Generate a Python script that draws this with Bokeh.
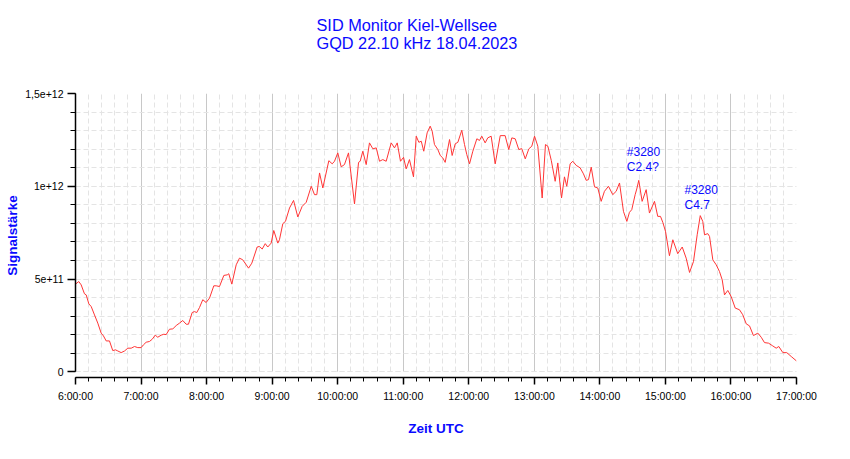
from bokeh.plotting import figure
from bokeh.models import FixedTicker, Range1d, ColumnDataSource, Title
from bokeh.core.properties import value
from bokeh.embed import file_html
from bokeh.resources import INLINE

# ---- data -------------------------------------------------------------
title_lines = ["SID Monitor Kiel-Wellsee", "GQD 22.10 kHz 18.04.2023"]
x_label = "Zeit UTC"
y_label = "Signalstärke"

# time in minutes after 06:00 UTC
minutes = [0, 3.0, 5.2, 8.2, 9.8, 12.2, 14.4, 17.4, 20.4, 23.5, 25.6, 28.1, 31.1, 34.1, 36.6,
           38.7, 41.8, 44.9, 47.9, 51.0, 54.0, 57.0, 60.1, 62.2, 64.7, 67.7, 70.2, 73.0, 75.3,
           78.4, 80.8, 83.0, 86.0, 89.1, 92.2, 95.2, 98.2, 101.3, 103.4, 106.8, 108.9, 111.0,
           113.5,
           116.5, 119.6, 122.7, 126.6, 128.8, 131.8, 135.8, 138.9, 140.3, 143.1, 147.1, 150.1,
           153.1, 158.4, 161.4, 166.3, 168.4, 170.9, 173.7, 176.0, 179.1, 181.5, 185.2,
           186.7, 189.8, 192.2, 195.9, 199.6, 203.5, 207.5, 211.2, 215.8, 218.8, 220.9, 223.4,
           226.4, 231.9, 235.0, 237.1, 240.1, 243.2, 246.2, 249.9, 255.4, 259.1, 260.6, 263.0,
           266.1, 269.1, 272.2, 275.3, 278.3, 281.3, 284.4, 289.0, 292.0, 294.5, 297.5, 300.3,
           302.7, 305.7, 309.4, 311.9, 314.3, 316.5, 318.8, 321.9, 324.7, 326.5, 328.6, 331.7,
           333.9, 336.2, 338.4, 342.4, 344.8, 347.6, 350.0, 353.6, 356.1, 358.2, 360.7, 363.7,
           367.4, 369.8, 371.9, 375.0, 377.4, 380.5, 384.2, 388.8, 393.3, 396.6, 399.4, 402.5,
           405.8, 408.5, 411.7, 415.0, 417.7, 420.2, 423.2, 427.2, 430.2, 432.4, 435.5, 439.1,
           441.5, 444.9, 447.6, 449.7, 452.8, 455.2, 458.3, 462.0,
           465.0, 467.5, 469.6, 472.1, 475.1, 478.1, 481.2, 484.2, 487.9, 491.8, 494.9, 498.0,
           501.6, 504.7, 507.1, 509.2, 512.3, 513.8, 515.6, 518.7, 522.4, 525.4, 530.0, 533.0,
           535.5, 537.6, 540.1, 543.7, 546.8, 551.3, 555.4, 559.0, 562.1, 565.7, 569.1, 571.9,
           574.2, 575.8, 578.8, 580.4, 583.4, 586.5, 589.5, 592.0, 594.1, 597.1, 600.2, 603.9,
           607.8, 610.8, 614.0, 617.0, 620.6, 624.6, 627.7, 630.7, 634.4, 637.8, 641.4, 643.8,
           647.5, 651.1, 655.2, 660.0]

# signal strength in units of 1e12
signal_e12 = [0.473, 0.487, 0.469, 0.421, 0.415, 0.367, 0.352, 0.307, 0.263, 0.209, 0.194, 0.167,
              0.167, 0.115, 0.119, 0.113, 0.104, 0.113, 0.128, 0.128, 0.137, 0.131, 0.131, 0.146,
              0.160, 0.164, 0.176, 0.198, 0.187, 0.198, 0.203, 0.201, 0.230, 0.232, 0.250, 0.263,
              0.277, 0.257, 0.257, 0.320, 0.325, 0.320, 0.347,
              0.389, 0.374, 0.398, 0.464, 0.464, 0.460, 0.520, 0.523, 0.529, 0.473, 0.577, 0.613,
              0.604, 0.559, 0.586, 0.673, 0.676, 0.662, 0.691, 0.673, 0.694, 0.762, 0.694,
              0.712, 0.799, 0.811, 0.883, 0.924, 0.835, 0.892, 0.914, 1.000, 0.955, 0.955, 1.072,
              0.991, 1.138, 1.121, 1.135, 1.180, 1.105, 1.117, 1.180, 0.905, 1.129, 1.135, 1.189,
              1.117, 1.234, 1.202, 1.207, 1.135, 1.144, 1.135, 1.234, 1.207, 1.234, 1.135, 1.156,
              1.094, 1.144, 1.051, 1.270, 1.237, 1.243, 1.189, 1.288, 1.324, 1.297, 1.225, 1.198,
              1.166, 1.153, 1.129, 1.252, 1.166, 1.229, 1.237, 1.302, 1.225, 1.171, 1.121, 1.189,
              1.256, 1.247, 1.270, 1.234, 1.261, 1.270, 1.121, 1.273, 1.273, 1.198, 1.261, 1.256,
              1.198, 1.203, 1.148, 1.202, 1.216, 1.270, 1.216, 0.937, 1.225, 1.216, 1.140, 1.027,
              1.126, 0.937, 1.051, 1.000, 1.121, 1.135, 1.113, 1.099,
              1.067, 1.032, 1.036, 1.103, 0.997, 0.991, 0.919, 0.973, 1.000, 0.955, 0.973, 1.018,
              0.865, 0.811, 0.860, 0.874, 0.955, 0.986, 1.032, 0.919, 0.982, 0.856, 0.919, 0.838,
              0.838, 0.806, 0.757, 0.626, 0.712, 0.637, 0.673, 0.613, 0.536, 0.595, 0.739, 0.842,
              0.811, 0.739, 0.745, 0.730, 0.604, 0.577, 0.541, 0.496, 0.415, 0.439, 0.406, 0.344,
              0.335, 0.308, 0.259, 0.248, 0.196, 0.209, 0.187, 0.158, 0.155, 0.142, 0.128, 0.137,
              0.104, 0.104, 0.083, 0.059]

hour_ticks_min = [0, 60, 120, 180, 240, 300, 360, 420, 480, 540, 600, 660]
hour_tick_labels = ["6:00:00", "7:00:00", "8:00:00", "9:00:00", "10:00:00", "11:00:00",
                    "12:00:00", "13:00:00", "14:00:00", "15:00:00", "16:00:00", "17:00:00"]
y_ticks = [0, 5e11, 1e12, 1.5e12]
y_tick_labels = ["0", "5e+11", "1e+12", "1,5e+12"]

# flare annotations
flare_min = [504.7, 557.5]
flare_line1 = ["#3280", "#3280"]
flare_line2 = ["C2.4?", "C4.7"]
flare_y1_e12 = [1.187, 0.980]
flare_y2_e12 = [1.106, 0.901]

# ---- plot -------------------------------------------------------------
BLUE = "#0a0aff"
FONT = "Liberation Sans"

signal = [v * 1e12 for v in signal_e12]
src = ColumnDataSource(dict(t=minutes, s=signal))

p = figure(width=834, height=443, output_backend="svg", toolbar_location=None,
           x_range=Range1d(0, 660), y_range=Range1d(-0.03e12, 1.5e12),
           min_border_left=75, min_border_right=38, min_border_top=93, min_border_bottom=66,
           background_fill_color="white", border_fill_color="white")
p.outline_line_color = None

# spacer panel between the frame and the title (keeps the title near the top)
p.add_layout(Title(text=" ", text_font_size="1px", standoff=38), "above")

p.title.text = "\n".join(title_lines)
p.title.align = "left"
p.title.offset = 241
p.title.standoff = 0
p.title.text_font = FONT
p.title.text_font_size = "16.3px"
p.title.text_font_style = "normal"
p.title.text_color = BLUE
p.title.text_line_height = 1.05

# x axis
xa = p.xaxis[0]
xa.ticker = FixedTicker(ticks=hour_ticks_min, minor_ticks=list(range(0, 661, 12)))
xa.major_label_overrides = {t: l for t, l in zip(hour_ticks_min, hour_tick_labels)}
xa.major_tick_out = 7
xa.major_tick_in = 0
xa.minor_tick_out = 4
xa.minor_tick_in = 0
xa.axis_line_width = 1.5
xa.major_tick_line_width = 1.5
xa.minor_tick_line_width = 1
xa.major_label_text_font = FONT
xa.major_label_text_font_size = "10.5px"
xa.major_label_text_color = "black"
xa.major_label_standoff = 5
xa.axis_label = x_label
xa.axis_label_text_font = FONT
xa.axis_label_text_font_size = "13.5px"
xa.axis_label_text_font_style = "bold"
xa.axis_label_text_color = BLUE
xa.axis_label_standoff = 16

# y axis
ya = p.yaxis[0]
ya.ticker = FixedTicker(ticks=y_ticks, minor_ticks=[i * 1e11 for i in range(16)])
ya.major_label_overrides = {t: l for t, l in zip(y_ticks, y_tick_labels)}
ya.bounds = (0, 1.5e12)
ya.major_tick_out = 8
ya.major_tick_in = 0
ya.minor_tick_out = 5
ya.minor_tick_in = 0
ya.axis_line_width = 1.5
ya.major_tick_line_width = 1.5
ya.minor_tick_line_width = 1
ya.major_label_text_font = FONT
ya.major_label_text_font_size = "10.5px"
ya.major_label_text_color = "black"
ya.major_label_standoff = 4
ya.axis_label = y_label
ya.axis_label_text_font = FONT
ya.axis_label_text_font_size = "13.5px"
ya.axis_label_text_font_style = "bold"
ya.axis_label_text_color = BLUE
ya.axis_label_standoff = 2

# grids
p.xgrid.grid_line_color = "#c8c8c8"
p.xgrid.grid_line_width = 1
p.xgrid.minor_grid_line_color = "#e4e4e4"
p.xgrid.minor_grid_line_dash = "5 3"
p.xgrid.cross_bounds = (0, 1.5e12)
p.ygrid.grid_line_color = "#e4e4e4"
p.ygrid.grid_line_dash = "5 3"
p.ygrid.minor_grid_line_color = "#e4e4e4"
p.ygrid.minor_grid_line_dash = "5 3"

p.line(x="t", y="s", source=src, line_color="#ff3535", line_width=1)

ann1 = ColumnDataSource(dict(x=flare_min, y=[v * 1e12 for v in flare_y1_e12], txt=flare_line1))
ann2 = ColumnDataSource(dict(x=flare_min, y=[v * 1e12 for v in flare_y2_e12], txt=flare_line2))
for s_ in (ann1, ann2):
    p.text(x="x", y="y", text="txt", source=s_, text_font=value(FONT), text_font_size="12px",
           text_color=BLUE, text_baseline="alphabetic", text_align="left")

open("out.html", "w").write(file_html(p, INLINE))
